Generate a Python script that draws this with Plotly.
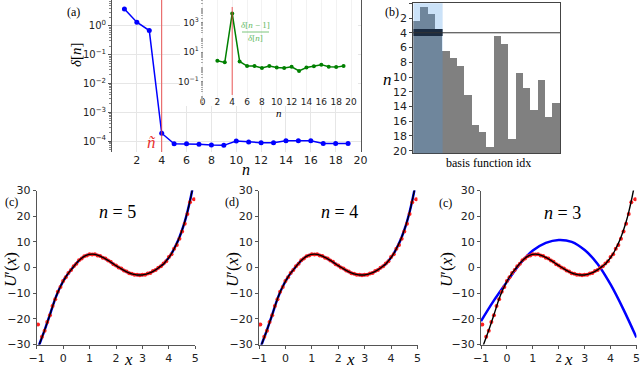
import plotly.graph_objects as go

W, H = 640, 368
SERIF = "Liberation Serif"
SANS = "DejaVu Sans"

# (a) reconstruction error vs number of basis functions
n_vals = list(range(1, 20))
delta = [3.9, 1.35, 0.69, 1.87e-4, 8.1e-5, 8.1e-5, 7.7e-5, 7.3e-5, 7.1e-5,
         1.0e-4, 9.3e-5, 8.8e-5, 8.8e-5, 1.02e-4, 1.02e-4, 1.02e-4, 8.3e-5, 8.3e-5, 8.3e-5]
# inset: ratio delta[n-1]/delta[n]
ratio_n = list(range(2, 20))
ratio = [2.6, 2.0, 4300, 2.3, 1.13, 1.13, 0.83, 1.13, 0.89, 0.83, 1.0, 0.52,
         0.89, 1.08, 1.4, 1.0, 0.95, 1.13]
n_tilde = 4

# (b) n at which each basis function enters the model
basis_idx = list(range(1, 21))
basis_entry = [3, 1, 2, 4, 7, 8, 9, 13, 17, 18, 20, 5, 6, 19, 10, 12, 15, 11, 16, 14]

# (c)-(e) true U'(x), noisy samples and fits
x_true = [-1.0, -0.9, -0.8, -0.7, -0.6, -0.5, -0.4, -0.3, -0.2, -0.1, 0.0, 0.1, 0.2, 0.3,
          0.4, 0.5, 0.6, 0.7, 0.8, 0.9, 1.0, 1.1, 1.2, 1.3, 1.4, 1.5, 1.6, 1.7, 1.8,
          1.9, 2.0, 2.1, 2.2, 2.3, 2.4, 2.5, 2.6, 2.7, 2.8, 2.9, 3.0, 3.1, 3.2, 3.3,
          3.4, 3.5, 3.6, 3.7, 3.8, 3.9, 4.0, 4.1, 4.2, 4.3, 4.4, 4.5, 4.6, 4.7, 4.8,
          4.9, 5.0]
u_true = [-33.0, -30.0, -27.2, -24.4, -21.4, -18.4, -15.2, -12.2, -9.6, -7.4, -5.4, -3.7,
          -2.2, -0.9, 0.4, 1.6, 2.7, 3.6, 4.3, 4.8, 5.1, 5.2, 5.1, 4.8, 4.4, 3.9, 3.4,
          2.8, 2.1, 1.4, 0.7, 0.1, -0.5, -1.1, -1.7, -2.1, -2.5, -2.7, -2.9, -2.95,
          -2.9, -2.7, -2.4, -2.0, -1.5, -0.9, -0.2, 0.6, 1.4, 2.6, 3.9, 5.4, 7.3, 9.4,
          11.8, 14.6, 17.8, 21.6, 26.0, 31.0, 36.5]
x_obs = [-0.95, -0.8, -0.7, -0.6, -0.5, -0.4, -0.3, -0.2, -0.1, 0.0, 0.1, 0.2, 0.3, 0.4,
         0.5, 0.6, 0.7, 0.8, 0.9, 1.0, 1.1, 1.2, 1.3, 1.4, 1.5, 1.6, 1.7, 1.8, 1.9,
         2.0, 2.1, 2.2, 2.3, 2.4, 2.5, 2.6, 2.7, 2.8, 2.9, 3.0, 3.1, 3.2, 3.3, 3.4,
         3.5, 3.6, 3.7, 3.8, 3.9, 4.0, 4.1, 4.2, 4.3, 4.4, 4.5, 4.6, 4.7, 4.8, 4.95]
u_obs = [-22.2, -27.0, -24.6, -21.2, -18.6, -15.0, -12.4, -9.4, -7.6, -5.3, -3.8, -2.1,
         -1.0, 0.5, 1.5, 2.8, 3.5, 4.4, 4.7, 5.2, 5.1, 5.2, 4.7, 4.5, 3.8, 3.5, 2.7,
         2.2, 1.3, 0.8, 0.0, -0.4, -1.2, -1.6, -2.2, -2.4, -2.8, -2.8, -3.0, -2.8,
         -2.8, -2.3, -2.1, -1.4, -1.0, -0.1, 0.5, 1.6, 2.4, 4.1, 5.2, 7.3, 8.8, 11.2,
         14.0, 17.0, 20.8, 25.4, 26.6]
x_fit3 = [-1.0, -0.5, 0.0, 0.5, 1.0, 1.5, 2.0, 2.5, 3.0, 3.5, 4.0, 4.5, 5.0]
u_fit3 = [-20.9, -12.8, -5.6, 1.4, 6.6, 9.6, 10.75, 10.0, 6.8, 1.4, -6.6, -16.4, -27.3]


def px(x):
    return x / W


def py(y):
    return 1 - y / H


fig = go.Figure()

# (a) main curve
fig.add_trace(go.Scatter(x=n_vals, y=delta, mode="lines+markers", xaxis="x", yaxis="y",
                         line=dict(color="#0000ff", width=1.5),
                         marker=dict(color="#0000ff", size=5)))
# (a) inset
fig.add_trace(go.Scatter(x=ratio_n, y=ratio, mode="lines+markers", xaxis="x2", yaxis="y2",
                         line=dict(color="#008000", width=1.5),
                         marker=dict(color="#008000", size=4)))
# (b) basis function selection
fig.add_trace(go.Bar(x=basis_idx, y=[21 - e for e in basis_entry],
                     base=[e - 0.5 for e in basis_entry], width=1,
                     xaxis="x3", yaxis="y3", marker=dict(color="#808080", line_width=0)))

# (c)-(e)
panels = [("x4", "y4", x_true, u_true), ("x5", "y5", x_true, u_true), ("x6", "y6", x_fit3, u_fit3)]
for xa, ya, xf, uf in panels:
    fig.add_trace(go.Scatter(x=xf, y=uf, mode="lines", xaxis=xa, yaxis=ya,
                             line=dict(color="#0000ff", width=2.5, shape="spline")))
    fig.add_trace(go.Scatter(x=x_obs, y=u_obs, mode="markers", xaxis=xa, yaxis=ya,
                             marker=dict(color="#ff2020", size=4)))
    fig.add_trace(go.Scatter(x=x_true, y=u_true, mode="lines", xaxis=xa, yaxis=ya,
                             line=dict(color="black", width=1.4, shape="spline")))

tickfont = dict(family=SANS, size=11, color="#222")
minor_log = [m * 10 ** e for e in range(-5, 5) for m in range(2, 10)]

axes = dict(
    xaxis=dict(domain=[px(112), px(360.5)], range=[0, 20], anchor="y",
               tickvals=list(range(2, 21, 2)), showgrid=True, gridcolor="#e6e6e6",
               ticks="", showline=False, zeroline=False, tickfont=tickfont),
    yaxis=dict(domain=[py(152), 1], type="log", range=[-4.38, 0.9], anchor="x",
               tickvals=[1, 0.1, 0.01, 1e-3, 1e-4],
               ticktext=["10<sup>0</sup>", "10<sup>−1</sup>", "10<sup>−2</sup>",
                         "10<sup>−3</sup>", "10<sup>−4</sup>"],
               showgrid=True, gridcolor="#e6e6e6", showline=True, mirror=True,
               linecolor="#555", linewidth=1, ticks="outside", ticklen=3,
               tickcolor="#555", tickfont=dict(family=SANS, size=10, color="#222"),
               minor=dict(tickvals=minor_log, ticks="outside", ticklen=2,
                          tickcolor="#888", showgrid=False)),
    xaxis2=dict(domain=[px(180), px(358)], range=[-3.03, 20.94], anchor="free",
                position=py(95), tickvals=list(range(0, 21, 2)), showgrid=True,
                gridcolor="#f2f2f2", showline=False, zeroline=False, ticks="",
                tickfont=dict(family=SANS, size=9, color="#222")),
    yaxis2=dict(domain=[py(106), 1], type="log", range=[-2.667, 4.544], anchor="free",
                position=px(202.5), tickvals=[0.1, 10, 1000],
                ticktext=["10<sup>−1</sup>", "10<sup>1</sup>", "10<sup>3</sup>"],
                showgrid=False, showline=False, ticks="outside", ticklen=2,
                tickcolor="#888", tickfont=dict(family=SANS, size=9, color="#222"),
                minor=dict(tickvals=minor_log, ticks="outside", ticklen=1.5,
                           tickcolor="#aaa")),
    xaxis3=dict(domain=[px(413.3), px(560)], range=[0.5, 20.5], anchor="y3",
                showticklabels=False, ticks="", showgrid=False, zeroline=False,
                showline=True, mirror=True, linecolor="#444", linewidth=1),
    yaxis3=dict(domain=[py(153.3), py(3.3)], range=[20.35, 0], anchor="x3",
                tickvals=list(range(0, 21, 2)), showgrid=False, zeroline=False,
                showline=True, mirror=True, linecolor="#444", linewidth=1,
                ticks="outside", ticklen=3, tickcolor="#444", tickfont=tickfont),
)
pdom = [(36.7, 195.3), (259, 417.5), (481, 636.5)]
for i, (l, r) in enumerate(pdom):
    k = i + 4
    axes[f"xaxis{k}"] = dict(domain=[px(l), px(r)], range=[-1, 5], anchor=f"y{k}",
                             dtick=1, showgrid=False, zeroline=False, showline=True,
                             linecolor="#555", linewidth=1, ticks="outside", ticklen=3,
                             tickcolor="#555", tickfont=tickfont, ticklabeloverflow="allow")
    axes[f"yaxis{k}"] = dict(domain=[py(344.5), py(190.5)], range=[-30, 30], anchor=f"x{k}",
                             dtick=10, showgrid=False, zeroline=False, showline=True,
                             linecolor="#555", linewidth=1, ticks="outside", ticklen=3,
                             tickcolor="#555", tickfont=tickfont)
# keep the hand-placed domains: no margin pushing from tick labels
for ax in axes.values():
    ax["automargin"] = False

shapes = [
    # n tilde markers
    dict(type="line", xref="x", yref="y domain", x0=n_tilde, x1=n_tilde, y0=0, y1=1,
         line=dict(color="rgba(235,60,60,0.85)", width=1)),
    dict(type="line", xref="x2", yref="y2 domain", x0=n_tilde, x1=n_tilde, y0=0.104, y1=0.934,
         line=dict(color="rgba(235,60,60,0.85)", width=1)),
    # (b) selected basis functions
    dict(type="rect", xref="x3", yref="y3 domain", x0=0.5, x1=n_tilde + 0.5, y0=0, y1=1,
         fillcolor="rgba(70,150,230,0.28)", line_width=0, layer="above"),
    dict(type="rect", xref="x3", yref="y3", x0=0.5, x1=n_tilde + 0.5, y0=n_tilde - 0.5,
         y1=n_tilde + 0.45, fillcolor="#1b2b40", line_width=0, layer="above"),
    dict(type="line", xref="x3 domain", yref="y3", x0=0, x1=1, y0=n_tilde, y1=n_tilde,
         line=dict(color="#333", width=1), layer="above"),
    # fraction bar of inset label
    dict(type="line", xref="paper", yref="paper", x0=px(242), x1=px(269), y0=py(32), y1=py(32),
         line=dict(color="#5cb85c", width=0.8)),
]


def note(text, x, y, size=12, color="black", angle=0, family=SERIF):
    return dict(text=text, x=px(x), y=py(y), xref="paper", yref="paper", showarrow=False,
                xanchor="center", yanchor="middle", textangle=angle,
                font=dict(family=family, size=size, color=color))


annotations = [
    note("(a)", 73, 12, 12),
    note("<i>δ</i>[<i>n</i>]", 76, 55, 15, angle=-90),
    note("<i>ñ</i>", 151, 142, 17, color="#e83030"),
    note("<i>n</i>", 246, 170, 16),
    note("<i>n</i>", 279, 113, 11),
    note("<i>δ</i>[<i>n</i> − 1]", 255, 25, 9, color="#5cb85c"),
    note("<i>δ</i>[<i>n</i>]", 255, 38, 9, color="#5cb85c"),
    note("(b)", 392, 12, 12),
    note("<i>n</i>", 387, 80, 17),
    note("basis function idx", 488, 163, 12),
    note("(c)", 11, 202, 12),
    note("(d)", 232, 202, 12),
    note("(c)", 445, 203, 12),
    note("<i>n</i> = 5", 117, 212, 18),
    note("<i>n</i> = 4", 339, 212, 18),
    note("<i>n</i> = 3", 562, 213, 18),
]
for cx, lx in [(128, 10), (350, 232), (568, 446)]:
    annotations.append(note("<i>x</i>", cx, 359, 17))
    annotations.append(note("<i>U</i>′(<i>x</i>)", lx, 270, 17, angle=-90))

fig.update_layout(width=W, height=H, margin=dict(l=0, r=0, t=0, b=0, autoexpand=False),
                  paper_bgcolor="white", plot_bgcolor="white", showlegend=False,
                  shapes=shapes, annotations=annotations, bargap=0, **axes)

# the page body has a default margin; drop it so the figure sits at the window corner
fig.write_html("out.html", config={"displayModeBar": False},
               post_script="document.body.style.margin='0';")
